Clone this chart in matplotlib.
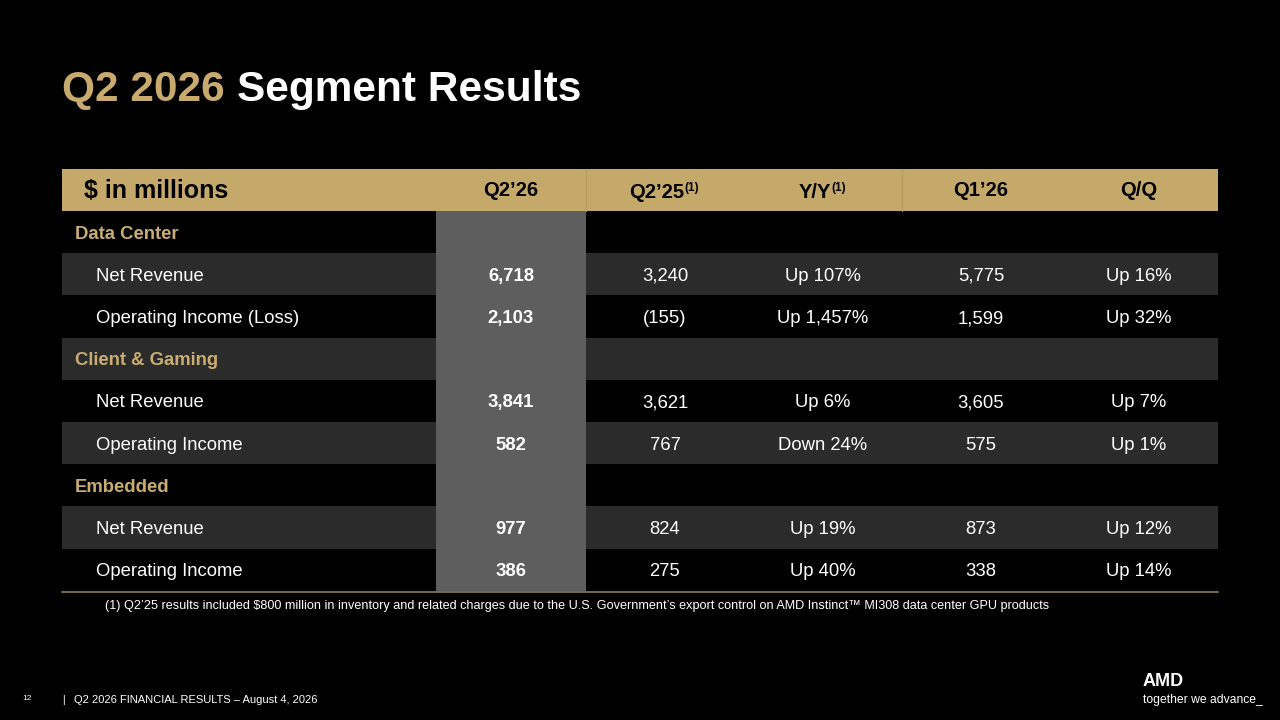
"""
Q2 2026 segment results table, drawn as a slide
"""

import matplotlib.pyplot as plt
from matplotlib.patches import Rectangle

# table data
col_labels = ["Q2’26", "Q2’25", "Y/Y", "Q1’26", "Q/Q"]
col_notes = ["", "(1)", "(1)", "", ""]
sections = ["Data Center", "Client & Gaming", "Embedded"]
row_labels = [
    ["Net Revenue", "Operating Income (Loss)"],
    ["Net Revenue", "Operating Income"],
    ["Net Revenue", "Operating Income"],
]
q2_26 = [["6,718", "2,103"], ["3,841", "582"], ["977", "386"]]
q2_25 = [["3,240", "(155)"], ["3,621", "767"], ["824", "275"]]
yoy = [["Up 107%", "Up 1,457%"], ["Up 6%", "Down 24%"], ["Up 19%", "Up 40%"]]
q1_26 = [["5,775", "1,599"], ["3,605", "575"], ["873", "338"]]
qoq = [["Up 16%", "Up 32%"], ["Up 7%", "Up 1%"], ["Up 12%", "Up 14%"]]

footnote = ("(1) Q2’25 results included $800 million in inventory and related charges due to the "
            "U.S. Government’s export control on AMD Instinct™ MI308 data center GPU products")
footer = "Q2 2026 FINANCIAL RESULTS – August 4, 2026"

GOLD = "#c4a96b"
TITLE_GOLD = "#c8aa6e"
SECTION_GOLD = "#c9ad72"
HILITE = "#5e5e5e"
BAND = "#2b2b2b"
FONT = "Liberation Sans"

fig = plt.figure(figsize=(12.8, 7.2), dpi=100, facecolor="black")
ax = fig.add_axes([0, 0, 1, 1])
ax.set_xlim(0, 1280)
ax.set_ylim(720, 0)
ax.axis("off")
fig.canvas.draw()
r = fig.canvas.get_renderer()
inv = ax.transData.inverted()


def right_edge(t):
    """data x of the right end of a text"""
    b = t.get_window_extent(r)
    return inv.transform((b.x1, b.y0))[0]


# title
t1 = ax.text(62, 101, "Q2 2026", color=TITLE_GOLD, fontsize=30.5, fontweight="bold",
             family=FONT, va="baseline")
ax.text(right_edge(t1) + 12, 101, "Segment Results", color="white", fontsize=30.5,
        fontweight="bold", family=FONT, va="baseline")

# geometry
left, right = 62, 1218
head_top, head_bot = 169, 211
row_h = 42.2
col_edges = [436, 586, 744, 902, 1060, 1218]
col_centers = [(a + b) / 2 for a, b in zip(col_edges[:-1], col_edges[1:])]

# header band
ax.add_patch(Rectangle((left, head_top), right - left, head_bot - head_top, color=GOLD, lw=0))
for xs in (586, 902):
    ax.plot([xs, xs], [head_top, head_bot], color="#b39a5f", lw=0.8)
ax.text(84, 198, "$ in millions", color="black", fontsize=18, fontweight="bold", family=FONT,
        va="baseline", parse_math=False)
for cx, lab, note in zip(col_centers, col_labels, col_notes):
    if note:
        t = ax.text(cx - 8, 198, lab, color="black", fontsize=14.5, fontweight="bold",
                    family=FONT, va="baseline", ha="center")
        ax.text(right_edge(t), 191, note, color="black", fontsize=8.5, fontweight="bold",
                family=FONT, va="baseline", ha="left")
    else:
        ax.text(cx, 196, lab, color="black", fontsize=14.5, fontweight="bold", family=FONT,
                va="baseline", ha="center")

# body rows
y = head_bot
n = 0
for s, sec in enumerate(sections):
    items = [("section", sec)] + [("row", lab) for lab in row_labels[s]]
    for kind, lab in items:
        if n % 2 == 1:
            ax.add_patch(Rectangle((left, y), right - left, row_h, color=BAND, lw=0))
        base = y + row_h / 2 + 6.5
        if kind == "section":
            ax.text(75, base, lab, color=SECTION_GOLD, fontsize=13.3, fontweight="bold",
                    family=FONT, va="baseline")
        else:
            ax.text(96, base, lab, color="white", fontsize=13.3, family=FONT, va="baseline")
        y += row_h
        n += 1
body_bot = y

# highlighted current quarter column
ax.add_patch(Rectangle((col_edges[0], head_bot), col_edges[1] - col_edges[0],
                       body_bot - head_bot, color=HILITE, lw=0, zorder=2))

# values
cols = [q2_26, q2_25, yoy, q1_26, qoq]
y = head_bot
for s in range(len(sections)):
    y += row_h
    for i in range(len(row_labels[s])):
        base = y + row_h / 2 + 6.5
        for c, (cx, data) in enumerate(zip(col_centers, cols)):
            ax.text(cx, base, data[s][i], color="white", fontsize=13.3,
                    fontweight="bold" if c == 0 else "normal", family=FONT,
                    va="baseline", ha="center", zorder=3)
        y += row_h

ax.plot([left, right], [body_bot + 1, body_bot + 1], color="#8c7e58", lw=1.2)

ax.text(577, 606, footnote, color="white", fontsize=9.1, family=FONT, va="center",
        ha="center", parse_math=False)

# footer
ax.text(22, 699, "12", color="white", fontsize=6, family=FONT, va="center")
ax.text(62, 700, "|", color="white", fontsize=7.5, family=FONT, va="center")
ax.text(74, 700, footer, color="white", fontsize=8, family=FONT, va="center")
ax.text(1143, 682, "AMD", color="white", fontsize=13, fontweight="bold", family=FONT,
        va="center")
ax.text(1143, 700, "together we advance_", color="white", fontsize=8.7, family=FONT,
        va="center")

fig.savefig("out.png", dpi=100, facecolor="black")
